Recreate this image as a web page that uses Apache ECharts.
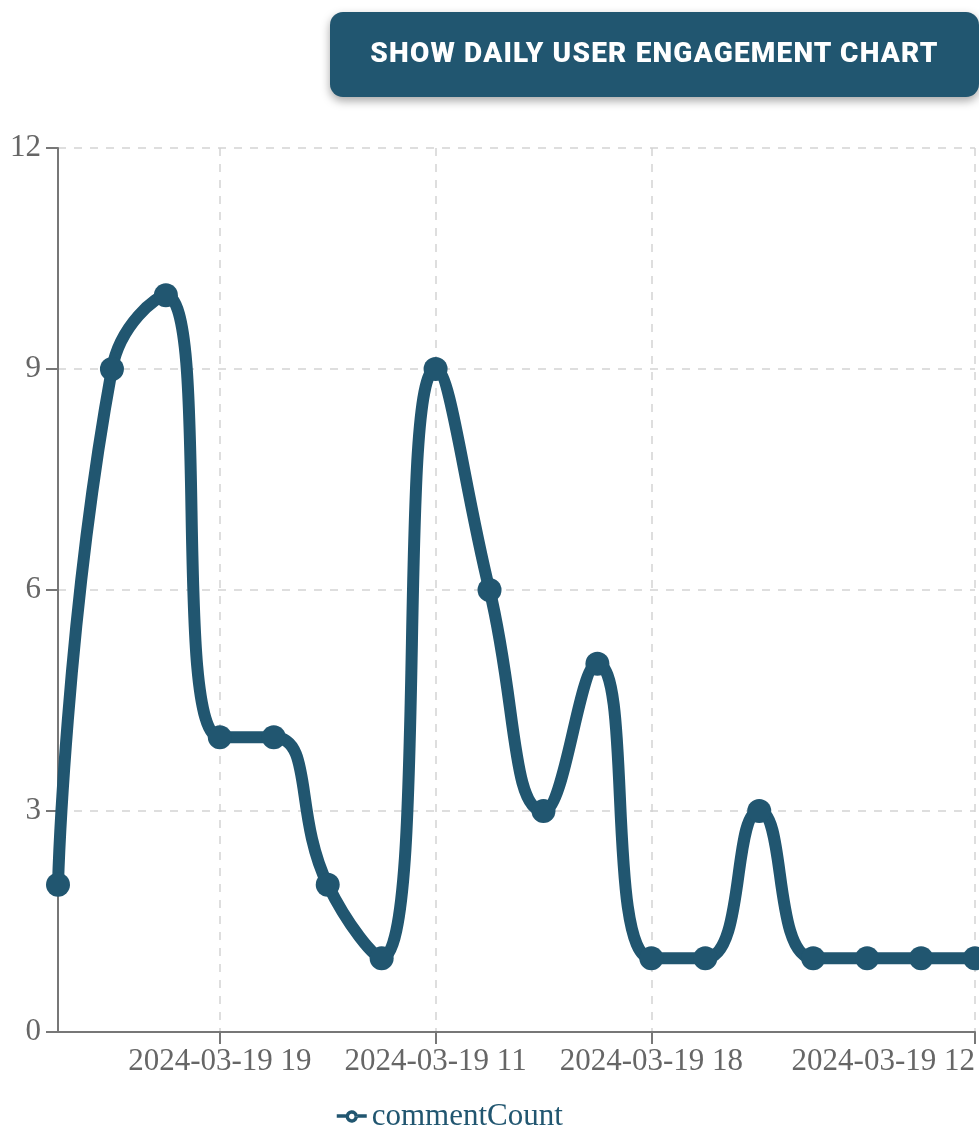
<!DOCTYPE html>
<html>
<head>
<meta charset="utf-8">
<script src="https://cdn.jsdelivr.net/npm/echarts@6/dist/echarts.min.js"></script>
<style>
  html, body { margin: 0; padding: 0; background: #fff; width: 979px; height: 1126px; overflow: hidden; }
  .toggle {
    position: absolute; left: 330px; top: 12px; width: 649px; height: 85px;
    background: #215670; color: #fff; border: none; border-radius: 13px;
    box-shadow: 0 4px 10px rgba(0,0,0,0.35);
    font-family: Roboto, "Noto Sans", sans-serif; font-weight: 900; font-size: 28px;
    letter-spacing: 1.2px; padding: 0 0 4px 0; cursor: pointer;
  }
  #chart { position: absolute; left: 0; top: 0; width: 979px; height: 1126px; }
</style>
</head>
<body>
<div id="chart"></div>
<button class="toggle">SHOW DAILY USER ENGAGEMENT CHART</button>
<script>
// Hourly buckets and comment counts
const categories = [
  "2024-03-19 14", "2024-03-19 15", "2024-03-19 16", "2024-03-19 19",
  "2024-03-19 20", "2024-03-19 21", "2024-03-19 22", "2024-03-19 11",
  "2024-03-19 13", "2024-03-19 17", "2024-03-19 23", "2024-03-19 18",
  "2024-03-19 10", "2024-03-19 09", "2024-03-19 08", "2024-03-19 07",
  "2024-03-19 06", "2024-03-19 12"
];
const commentCount = [2, 9, 10, 4, 4, 2, 1, 9, 6, 3, 5, 1, 1, 3, 1, 1, 1, 1];
const yTicks = { min: 0, max: 12, interval: 3 };
const shownLabels = [3, 7, 11, 17];

const lineColor = "#215670";
const textColor = "#666";
const serif = "'Liberation Serif', 'Times New Roman', serif";
const showAt = (i) => shownLabels.indexOf(i) >= 0;

const chart = echarts.init(document.getElementById("chart"), null, { renderer: "canvas" });
chart.setOption({
  animation: false,
  grid: { left: 58, right: 4, top: 148, bottom: 94, containLabel: false },
  legend: {
    data: ["commentCount"],
    left: 330, top: 1096,
    itemWidth: 30, itemHeight: 14, itemGap: 10,
    icon: "path://M0,7 L9,7 M21,7 L30,7 M19.5,7 A4.5,4.5 0 1 1 19.49,6.9",
    itemStyle: { color: "#fff", borderColor: lineColor, borderWidth: 3.5 },
    lineStyle: { color: lineColor, width: 3.5 },
    textStyle: { fontFamily: serif, fontSize: 31, color: lineColor }
  },
  xAxis: {
    type: "category",
    data: categories,
    boundaryGap: false,
    axisLine: { lineStyle: { color: "#777", width: 2 } },
    axisTick: { show: true, length: 12, interval: (i) => showAt(i), lineStyle: { color: "#777", width: 2 } },
    axisLabel: {
      interval: (i) => showAt(i),
      margin: 14,
      fontFamily: serif, fontSize: 31, color: textColor,
      alignMaxLabel: "right"
    },
    splitLine: { show: true, interval: (i) => showAt(i), lineStyle: { color: "#d3d3d3", width: 1.5, type: [8, 8] } }
  },
  yAxis: {
    type: "value",
    min: yTicks.min, max: yTicks.max, interval: yTicks.interval,
    axisLine: { show: true, lineStyle: { color: "#777", width: 2 } },
    axisTick: { show: true, length: 12, lineStyle: { color: "#777", width: 2 } },
    axisLabel: { margin: 17, fontFamily: serif, fontSize: 31, color: textColor },
    splitLine: { show: true, lineStyle: { color: "#d3d3d3", width: 1.5, type: [8, 8] } }
  },
  series: [{
    name: "commentCount",
    type: "line",
    data: commentCount,
    smooth: 0.5,
    symbol: "circle",
    symbolSize: 24,
    showSymbol: true,
    lineStyle: { color: lineColor, width: 12 },
    itemStyle: { color: lineColor }
  }]
});
</script>
</body>
</html>
